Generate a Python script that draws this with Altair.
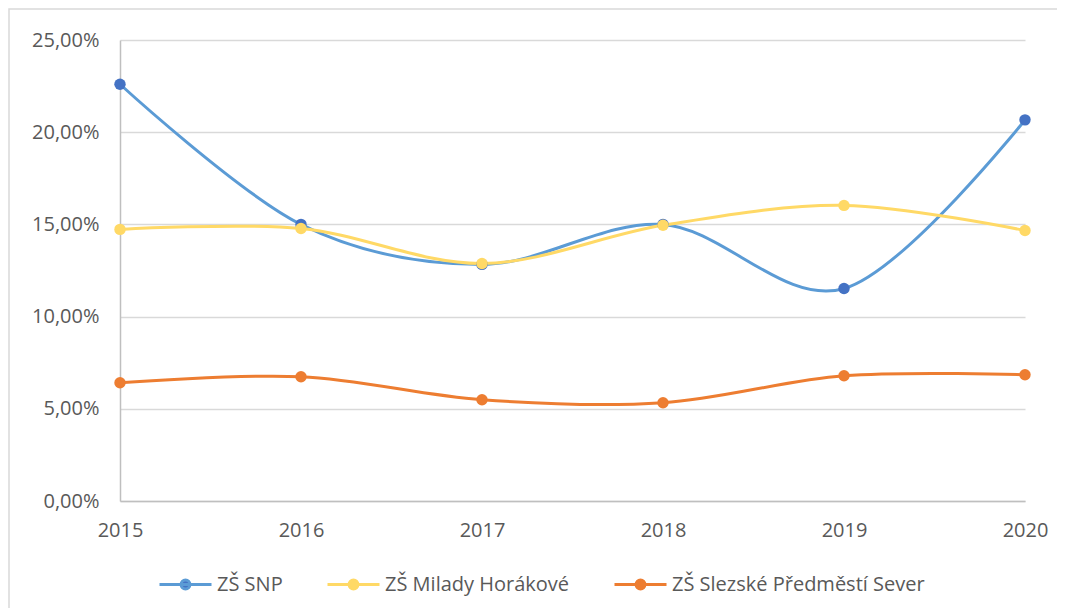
import altair as alt
import pandas as pd

years = [2015, 2016, 2017, 2018, 2019, 2020]
series = ["ZŠ SNP", "ZŠ Milady Horákové", "ZŠ Slezské Předměstí Sever"]
snp = [0.2260, 0.1500, 0.1283, 0.1500, 0.1152, 0.2067]
milady = [0.1473, 0.1478, 0.1288, 0.1495, 0.1603, 0.1467]
slezske = [0.0641, 0.0674, 0.0549, 0.0533, 0.0679, 0.0685]
line_colors = ["#5B9BD5", "#FFD966", "#ED7D31"]
marker_colors = ["#4472C4", "#FFD966", "#ED7D31"]

rows = []
for name, vals in zip(series, [snp, milady, slezske]):
    for y, v in zip(years, vals):
        rows.append({"year": y, "value": v, "series": name})
df = pd.DataFrame(rows)

font = "Open Sans"
text_color = "#595959"
fs = 20
sym_path = "M-1,0H1M0,-0.17A0.17,0.17 0 1,1 0,0.17A0.17,0.17 0 1,1 0,-0.17Z"

legend = alt.Legend(
    title=None, orient="none", legendX=38, legendY=517, direction="horizontal",
    symbolType=sym_path, symbolSize=2704, symbolStrokeWidth=3,
    labelFontSize=fs, labelFont=font, labelColor=text_color, labelLimit=500,
    columnPadding=38, labelOffset=4,
)

x_enc = alt.X("year:Q", scale=alt.Scale(domain=[2015, 2020], nice=False, zero=False),
              axis=alt.Axis(title=None, format="d", values=years, grid=False, ticks=False,
                            domainColor="#BFBFBF", domainWidth=1.5, labelPadding=19,
                            labelFontSize=fs, labelFont=font, labelColor=text_color,
                            labelFlush=False))
y_enc = alt.Y("value:Q", scale=alt.Scale(domain=[0, 0.25], nice=False),
              axis=alt.Axis(title=None, values=[0, 0.05, 0.10, 0.15, 0.20, 0.25],
                            labelExpr="replace(format(datum.value, '.2%'), '.', ',')",
                            grid=True, gridColor="#D9D9D9", gridWidth=1.5, ticks=False,
                            domainColor="#BFBFBF", domainWidth=1.5, labelPadding=21,
                            labelFontSize=fs, labelFont=font, labelColor=text_color))

base = alt.Chart(df)
lines = base.mark_line(interpolate="cardinal", strokeWidth=3).encode(
    x=x_enc, y=y_enc,
    stroke=alt.Stroke("series:N", scale=alt.Scale(domain=series, range=line_colors), legend=legend),
)
points = base.mark_circle(size=130, opacity=1).encode(
    x=x_enc, y=y_enc,
    fill=alt.Fill("series:N", scale=alt.Scale(domain=series, range=marker_colors), legend=legend),
)

frame = alt.Chart(pd.DataFrame({"a": [0]})).mark_rect(
    fillOpacity=0, stroke="#D9D9D9", strokeWidth=1.5
).encode(x=alt.value(-111), x2=alt.value(941), y=alt.value(-31), y2=alt.value(640))

chart = alt.layer(frame, lines, points).properties(
    width=905, height=461,
    autosize=alt.AutoSizeParams(type="none"),
    padding={"left": 112, "top": 32, "right": 32, "bottom": 107},
).configure_view(stroke=None)

chart.save("out.html", embed_options={"renderer": "svg", "actions": False})
